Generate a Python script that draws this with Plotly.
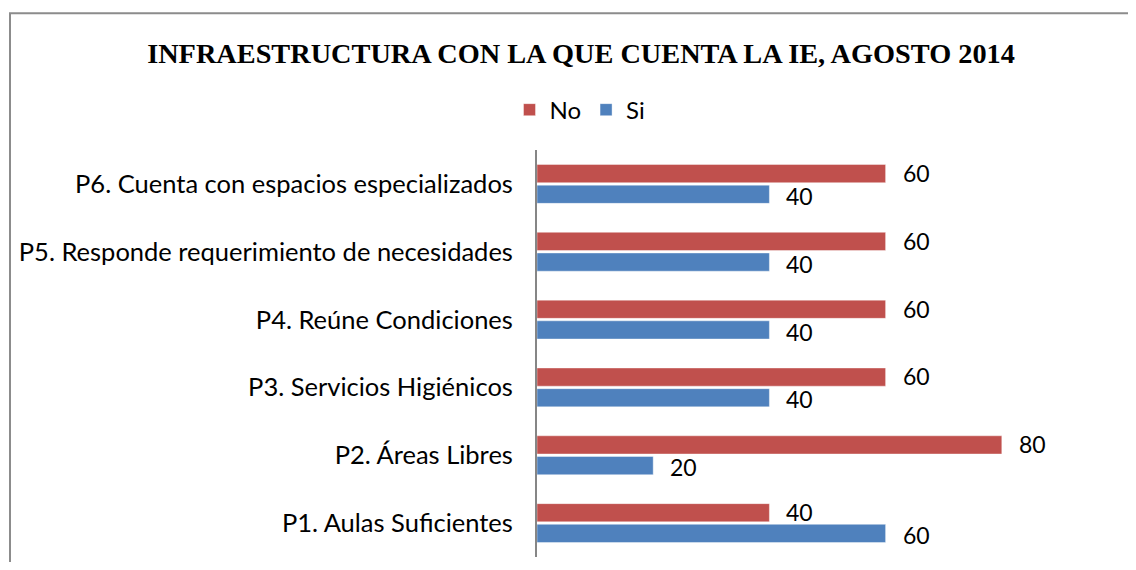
import plotly.graph_objects as go

categories = ["P1. Aulas Suficientes", "P2. Áreas Libres", "P3. Servicios Higiénicos",
              "P4. Reúne Condiciones", "P5. Responde requerimiento de necesidades",
              "P6. Cuenta con espacios especializados"]
no_values = [40, 80, 60, 60, 60, 60]
si_values = [60, 20, 40, 40, 40, 40]
title_text = "INFRAESTRUCTURA CON LA QUE CUENTA LA IE, AGOSTO 2014"

RED = "#C0504D"
BLUE = "#4F81BD"
FONT = "Lato"

W, H = 1120, 554
L, T, PW, PH = 529, 142, 581, 407.5

fig = go.Figure()
fig.add_trace(go.Bar(y=categories, x=si_values, name="Si", orientation="h",
                     marker=dict(color=BLUE, line=dict(color="rgba(255,255,255,0.4)", width=1))))
fig.add_trace(go.Bar(y=categories, x=no_values, name="No", orientation="h",
                     marker=dict(color=RED, line=dict(color="rgba(255,255,255,0.4)", width=1))))

annotations = []
for cat, v in zip(categories, no_values):
    annotations.append(dict(x=v, y=cat, text=str(v), showarrow=False, xanchor="left",
                            xshift=15, yshift=11, font=dict(family=FONT, size=23, color="#000")))
for cat, v in zip(categories, si_values):
    annotations.append(dict(x=v, y=cat, text=str(v), showarrow=False, xanchor="left",
                            xshift=15, yshift=-12, font=dict(family=FONT, size=23, color="#000")))

fig.update_layout(
    width=W, height=H,
    margin=dict(l=L, r=W - L - PW, t=T, b=H - T - PH),
    paper_bgcolor="white", plot_bgcolor="white",
    barmode="group", bargap=0.39, bargroupgap=0.12,
    title=dict(text="<b>" + title_text + "</b>", x=573 / W, xanchor="center",
               y=1 - 45 / H, yanchor="middle",
               font=dict(family="Liberation Serif", size=28.3, color="#000")),
    legend=dict(orientation="h", x=(572 - L) / PW, xanchor="center",
                y=1 + (T - 102) / PH, yanchor="middle",
                traceorder="reversed", font=dict(family=FONT, size=24, color="#000"),
                itemwidth=30),
    showlegend=True,
    annotations=annotations,
    xaxis=dict(range=[0, 100], visible=False, fixedrange=True),
    yaxis=dict(type="category", showline=True, linecolor="#868686", linewidth=2,
               showgrid=False, ticks="", ticklabelstandoff=17,
               tickfont=dict(family=FONT, size=25.5, color="#000")),
    shapes=[dict(type="rect", xref="paper", yref="paper", x0=(2 - L) / PW, x1=1.3,
                 y0=-0.2, y1=1 + (T - 5) / PH, line=dict(color="#8c8c8c", width=2))],
)

fig.write_html("out.html")
